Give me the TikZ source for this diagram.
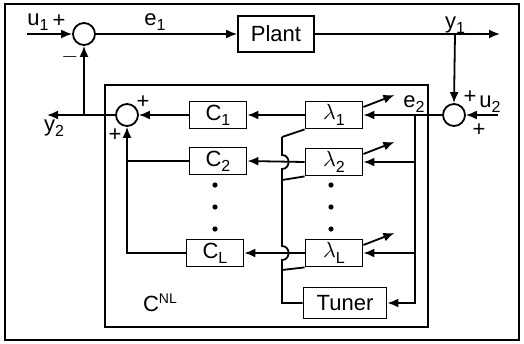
\documentclass[tikz,border=0pt]{standalone}
\usepackage{fontspec}
\setmainfont{Liberation Sans}
\usetikzlibrary{arrows.meta,calc}
\newcommand{\lo}[1]{\raisebox{-0.45ex}{\footnotesize #1}}
\tikzset{
  wire/.style={line width=0.9pt},
  sig/.style={wire, -{Latex[length=5.5pt,width=4.5pt]}},
  blk/.style={draw, line width=0.9pt, minimum width=28.5pt, minimum height=13.5pt,
              inner sep=0pt, font=\fontsize{11}{13}\selectfont},
  sumj/.style={draw, circle, line width=0.9pt, minimum size=11pt, inner sep=0pt},
  lbl/.style={font=\fontsize{11}{13}\selectfont, inner sep=0pt},
}

\begin{document}
\begin{tikzpicture}[x=0.5pt,y=-0.5pt]
\useasboundingbox (0,0) rectangle (524,343);

\draw[wire] (5,4) rectangle (519,340);
\draw[wire] (105,85) rectangle (428,327);

\node[sumj] (s1) at (84,34) {};
\node[blk, minimum width=38pt, minimum height=18pt] (plant) at (276,34) {Plant};
\node[sumj] (s2) at (454,115) {};
\node[sumj] (s3) at (127,115) {};

\node[blk] (l1) at (334,115) {$\lambda$\lo{1}};
\node[blk] (l2) at (334,162) {$\lambda$\lo{2}};
\node[blk] (lL) at (334,253) {$\lambda$\lo{L}};
\node[blk, minimum width=41.5pt, minimum height=15.5pt] (tuner) at (345,303) {Tuner};

\node[blk] (c1) at (218,115) {C\lo{1}};
\node[blk] (c2) at (218,161) {C\lo{2}};
\node[blk] (cL) at (215,253) {C\lo{L}};

\coordinate (u1) at (27,34);
\coordinate (y1b) at (455,34);
\coordinate (y1) at (500,34);
\coordinate (u2) at (498,115);
\coordinate (tap) at (415,115);
\coordinate (y2b) at (84,115);
\coordinate (y2) at (47,115);

% tuner line, hopping over the lambda outputs
\coordinate (tb) at (282,303);
\coordinate (dL) at (282,270);
\coordinate (jL0) at (282,260);
\coordinate (jL1) at (282,246);
\coordinate (d2) at (282,180);
\coordinate (j20) at (282,169);
\coordinate (j21) at (282,155);
\coordinate (d1) at (282,137);

\draw[sig] (u1) -- (s1.west);
\draw[sig] (s1.east) -- (plant.west);
\draw[sig] (plant.east) -- (y1);
\draw[sig] (y1b) -- (s2.north);
\draw[sig] (u2) -- (s2.east);
\draw[sig] (s2.west) -- (l1.east);
\draw[sig] (tap) |- (l2.east);
\draw[sig] (tap) |- (lL.east);
\draw[sig] (tap) |- (tuner.east);

\draw[sig] (l1.west) -- (c1.east);
\draw[sig] (l2.west) -- (c2.east);
\draw[sig] (lL.west) -- (cL.east);

\draw[sig] (c1.west) -- (s3.east);
\draw[wire] (c2.west) -- (c2.west -| s3.south);
\draw[sig] (cL.west) -| (s3.south);
\draw[sig] (s3.west) -- (y2);
\draw[sig] (y2b) -- (s1.south);

\draw[wire] (tuner.west) -- (tb) -- (dL) -- (jL0) to[out=0,in=0,looseness=1.6] (jL1)
  -- (d2) -- (j20) to[out=0,in=0,looseness=1.6] (j21) -- (d1);
\draw[wire] (d1) -- (l1.south west);
\draw[wire] (d2) -- (l2.south west);
\draw[wire] (dL) -- (lL.south west);

\foreach \b in {l1,l2,lL}
  \draw[sig] ([yshift=4pt]\b.east) -- ++(31,-12);

\foreach \yy in {185,207,229} {
  \fill (215,\yy) circle (2.6);
  \fill (331,\yy) circle (2.6);
}

\node[lbl] (u1t) at (38,22) {u\lo{1}};
\node[lbl] (p1) at (59,21) {+};
\node[lbl] (m1) at (70,57) {$-$};
\node[lbl] (e1t) at (155,22) {e\lo{1}};
\node[lbl] (y1t) at (455,25) {y\lo{1}};
\node[lbl] (p2) at (470,97) {+};
\node[lbl] (u2t) at (490,104) {u\lo{2}};
\node[lbl] (p3) at (479,130) {+};
\node[lbl] (e2t) at (414,104) {e\lo{2}};
\node[lbl] (y2t) at (54,128) {y\lo{2}};
\node[lbl] (p4) at (143,102) {+};
\node[lbl] (p5) at (115,135) {+};
\node[lbl] (cnl) at (160,303) {C\raisebox{0.7ex}{\scriptsize NL}};

\end{tikzpicture}
\end{document}
